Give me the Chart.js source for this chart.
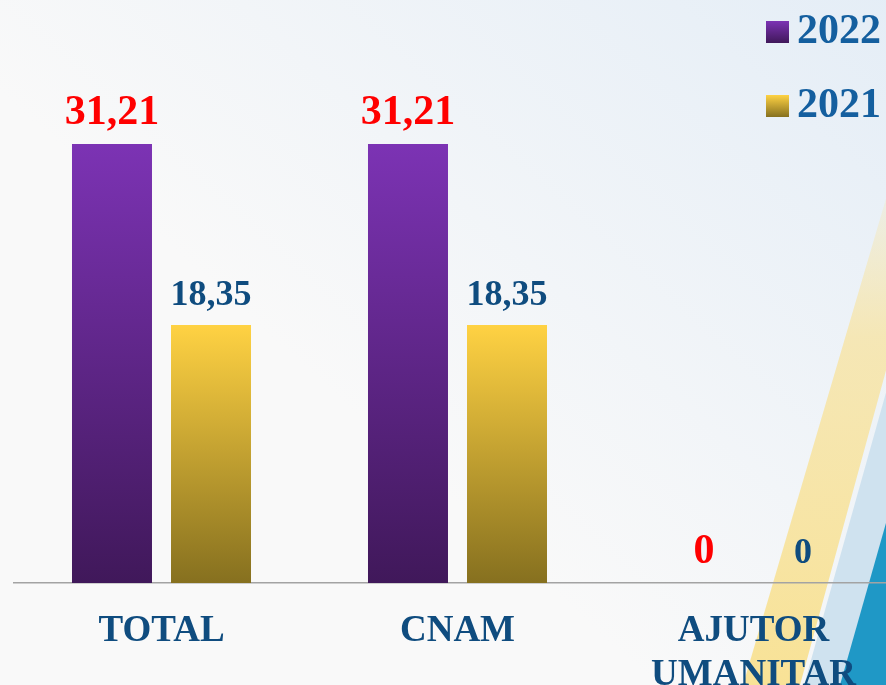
<!DOCTYPE html>
<html>
<head>
<meta charset="utf-8">
<script src="https://cdn.jsdelivr.net/npm/chart.js@4"></script>
<style>
    html, body { margin: 0; padding: 0; overflow: hidden; background: #f9f9f9; }
    #wrap { position: relative; width: 902px; height: 685px; }
</style>
</head>
<body>
<div id="wrap"><canvas id="chart"></canvas></div>
<script>
// --- Dane ---
const categories = ['TOTAL', 'CNAM', ['AJUTOR', 'UMANITAR']];
const seriesLabels = ['2022', '2021'];
const values2022 = [31.21, 31.21, 0];
const values2021 = [18.35, 18.35, 0];

const SERIF = '"Liberation Serif", "Times New Roman", serif';
const gradientStops = {
    '2022': ['#7c33b4', '#40185a'],
    '2021': ['#ffd243', '#86701f']
};
const labelStyle = {
    '2022': { color: '#ff0000', size: 42 },
    '2021': { color: '#0f4c7f', size: 36 }
};

function formatValue(v) {
    return v === 0 ? '0' : v.toFixed(2).replace('.', ',');
}

// gradient per bar (od góry słupka do osi)
function barGradient(context, key) {
    const chart = context.chart;
    if (!chart.chartArea) return gradientStops[key][0];
    const yScale = chart.scales.y;
    const top = yScale.getPixelForValue(context.raw || 0);
    const bottom = yScale.getPixelForValue(0);
    const g = chart.ctx.createLinearGradient(0, top, 0, Math.max(bottom, top + 1));
    g.addColorStop(0, gradientStops[key][0]);
    g.addColorStop(1, gradientStops[key][1]);
    return g;
}

// tło z ukośnymi pasami
const backgroundPlugin = {
    id: 'bgDecor',
    beforeDraw(chart) {
        const { ctx, width, height } = chart;
        ctx.save();
        ctx.fillStyle = '#f9f9f9';
        ctx.fillRect(0, 0, width, height);
        const tint = ctx.createLinearGradient(width, 0, 450, 500);
        tint.addColorStop(0, 'rgba(226,236,246,0.9)');
        tint.addColorStop(1, 'rgba(226,236,246,0)');
        ctx.fillStyle = tint;
        ctx.fillRect(0, 0, width, height);

        // żółty pas
        const yel = ctx.createLinearGradient(0, 150, 0, 685);
        yel.addColorStop(0, 'rgba(248,228,160,0)');
        yel.addColorStop(0.35, 'rgba(247,228,165,0.8)');
        yel.addColorStop(1, 'rgba(248,226,150,1)');
        ctx.fillStyle = yel;
        ctx.beginPath();
        ctx.moveTo(743, 685);
        ctx.lineTo(915, 100);
        ctx.lineTo(960, 100);
        ctx.lineTo(800, 685);
        ctx.closePath();
        ctx.fill();

        // jasnoniebieski pas
        ctx.fillStyle = '#cfe2ef';
        ctx.beginPath();
        ctx.moveTo(804, 685);
        ctx.lineTo(968, 100);
        ctx.lineTo(1100, 100);
        ctx.lineTo(1000, 685);
        ctx.closePath();
        ctx.fill();

        // ciemnoniebieski
        ctx.fillStyle = '#1f98c6';
        ctx.beginPath();
        ctx.moveTo(840, 685);
        ctx.lineTo(886, 523);
        ctx.lineTo(1000, 200);
        ctx.lineTo(1000, 685);
        ctx.closePath();
        ctx.fill();
        ctx.restore();
    }
};

// etykiety wartości nad słupkami + legenda
const labelsPlugin = {
    id: 'valueLabels',
    afterDatasetsDraw(chart) {
        const ctx = chart.ctx;
        ctx.save();
        ctx.textAlign = 'center';
        ctx.textBaseline = 'alphabetic';
        chart.data.datasets.forEach((ds, i) => {
            const st = labelStyle[ds.label];
            ctx.fillStyle = st.color;
            ctx.font = `bold ${st.size}px ${SERIF}`;
            chart.getDatasetMeta(i).data.forEach((bar, j) => {
                ctx.fillText(formatValue(ds.data[j]), bar.x, bar.y - 20);
            });
        });

        // legenda (prawy górny róg)
        const legendY = [21, 95];
        ctx.textAlign = 'left';
        ctx.font = `bold 42px ${SERIF}`;
        chart.data.datasets.forEach((ds, i) => {
            const y = legendY[i];
            const g = ctx.createLinearGradient(0, y, 0, y + 22);
            g.addColorStop(0, gradientStops[ds.label][0]);
            g.addColorStop(1, gradientStops[ds.label][1]);
            ctx.fillStyle = g;
            ctx.fillRect(766, y, 23, 22);
            ctx.fillStyle = '#145f9f';
            ctx.fillText(ds.label, 797, y + 22);
        });
        ctx.restore();
    }
};

const ctx = document.getElementById('chart').getContext('2d');
const chart = new Chart(ctx, {
    type: 'bar',
    data: {
        labels: categories,
        datasets: [
            {
                label: seriesLabels[0],
                data: values2022,
                backgroundColor: c => barGradient(c, '2022')
            },
            {
                label: seriesLabels[1],
                data: values2021,
                backgroundColor: c => barGradient(c, '2021')
            }
        ]
    },
    options: {
        responsive: true,
        maintainAspectRatio: false,
        animation: false,
        categoryPercentage: 0.669,
        barPercentage: 0.808,
        layout: { padding: { left: 13.5, right: 0.5, top: 20.4, bottom: 0 } },
        plugins: {
            legend: { display: false },
            tooltip: { enabled: false }
        },
        scales: {
            y: {
                display: false,
                min: 0,
                max: 40
            },
            x: {
                grid: { display: false, drawTicks: false },
                border: { display: true, color: '#a3a3a3', width: 1.5 },
                ticks: {
                    color: '#0f4c7f',
                    padding: 26,
                    font: { family: SERIF, size: 37, weight: 'bold', lineHeight: 1.19 }
                },
                afterFit(scale) { scale.height = 102; }
            }
        }
    },
    plugins: [backgroundPlugin, labelsPlugin]
});
</script>
</body>
</html>
